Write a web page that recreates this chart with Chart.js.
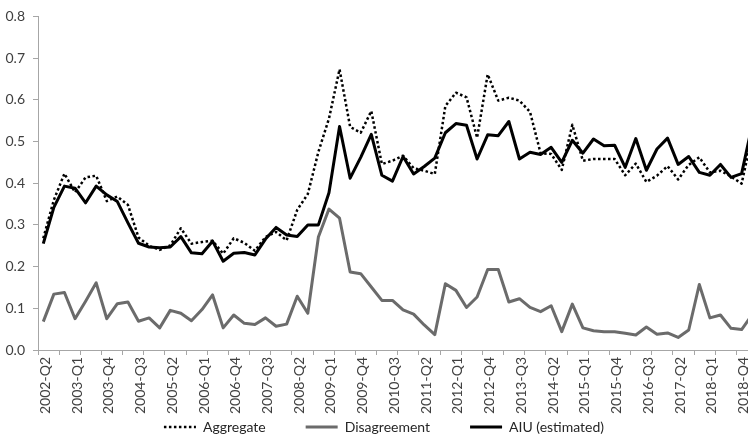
<!DOCTYPE html>
<html>
<head>
<meta charset="utf-8">
<script src="https://cdn.jsdelivr.net/npm/chart.js@4"></script>
<style>
html, body { margin: 0; padding: 0; background: #fff; overflow: hidden; }
#wrap { width: 771px; height: 442px; }
</style>
</head>
<body>
<div id="wrap"><canvas id="chart" width="771" height="442"></canvas></div>
<script>
var quarters = [
    '2002-Q2', '2002-Q3', '2002-Q4',
    '2003-Q1', '2003-Q2', '2003-Q3', '2003-Q4',
    '2004-Q1', '2004-Q2', '2004-Q3', '2004-Q4',
    '2005-Q1', '2005-Q2', '2005-Q3', '2005-Q4',
    '2006-Q1', '2006-Q2', '2006-Q3', '2006-Q4',
    '2007-Q1', '2007-Q2', '2007-Q3', '2007-Q4',
    '2008-Q1', '2008-Q2', '2008-Q3', '2008-Q4',
    '2009-Q1', '2009-Q2', '2009-Q3', '2009-Q4',
    '2010-Q1', '2010-Q2', '2010-Q3', '2010-Q4',
    '2011-Q1', '2011-Q2', '2011-Q3', '2011-Q4',
    '2012-Q1', '2012-Q2', '2012-Q3', '2012-Q4',
    '2013-Q1', '2013-Q2', '2013-Q3', '2013-Q4',
    '2014-Q1', '2014-Q2', '2014-Q3', '2014-Q4',
    '2015-Q1', '2015-Q2', '2015-Q3', '2015-Q4',
    '2016-Q1', '2016-Q2', '2016-Q3', '2016-Q4',
    '2017-Q1', '2017-Q2', '2017-Q3', '2017-Q4',
    '2018-Q1', '2018-Q2', '2018-Q3', '2018-Q4',
    '2019-Q1'
]

var aggregate = [
    0.268, 0.360, 0.423, 0.378, 0.414, 0.418, 0.357, 0.368, 0.348, 0.270,
    0.250, 0.240, 0.251, 0.292, 0.255, 0.259, 0.262, 0.231, 0.268, 0.257,
    0.238, 0.271, 0.283, 0.263, 0.336, 0.374, 0.475, 0.555, 0.673, 0.535,
    0.521, 0.573, 0.446, 0.454, 0.466, 0.436, 0.430, 0.422, 0.585, 0.617,
    0.606, 0.509, 0.661, 0.598, 0.605, 0.598, 0.571, 0.472, 0.470, 0.432,
    0.540, 0.454, 0.458, 0.458, 0.458, 0.419, 0.447, 0.403, 0.418, 0.441,
    0.409, 0.444, 0.462, 0.426, 0.430, 0.416, 0.399, 0.515
]

var disagreement = [
    0.068, 0.134, 0.138, 0.075, 0.117, 0.161, 0.075, 0.111, 0.115, 0.069,
    0.077, 0.053, 0.095, 0.088, 0.070, 0.097, 0.132, 0.053, 0.084, 0.064,
    0.061, 0.077, 0.057, 0.062, 0.129, 0.088, 0.271, 0.338, 0.316, 0.187,
    0.183, 0.151, 0.119, 0.119, 0.096, 0.086, 0.060, 0.037, 0.159, 0.143,
    0.102, 0.127, 0.193, 0.193, 0.115, 0.123, 0.102, 0.092, 0.106, 0.044,
    0.110, 0.053, 0.046, 0.044, 0.044, 0.040, 0.036, 0.055, 0.038, 0.041,
    0.030, 0.048, 0.157, 0.077, 0.084, 0.052, 0.049, 0.085
]

var aiu = [
    0.255, 0.342, 0.393, 0.388, 0.353, 0.393, 0.372, 0.356, 0.305, 0.256,
    0.247, 0.245, 0.247, 0.272, 0.233, 0.231, 0.261, 0.213, 0.232, 0.234,
    0.228, 0.266, 0.294, 0.276, 0.272, 0.300, 0.300, 0.377, 0.536, 0.412,
    0.462, 0.517, 0.419, 0.405, 0.464, 0.422, 0.440, 0.460, 0.521, 0.543,
    0.539, 0.458, 0.516, 0.514, 0.548, 0.458, 0.474, 0.469, 0.486, 0.450,
    0.503, 0.472, 0.506, 0.490, 0.491, 0.438, 0.507, 0.431, 0.482, 0.508,
    0.445, 0.464, 0.426, 0.419, 0.445, 0.414, 0.423, 0.540
]

var axisColor = '#a6a6a6'
var textColor = '#404040'
var fontFamily = 'Lato, "Liberation Sans", sans-serif'

// legend with short line samples, centred under the plot
var lineLegend = {
    id: 'lineLegend',
    afterDraw: function(chart) {
        var ctx = chart.ctx
        var sets = chart.data.datasets
        var sample = 32
        var gap = 7
        var space = 40
        var y = 427
        ctx.save()
        ctx.font = '14px ' + fontFamily
        var widths = sets.map(function(ds) { return ctx.measureText(ds.label).width })
        var total = (sets.length - 1) * space
        for (let i = 0; i < sets.length; i++) {
            total += sample + gap + widths[i]
        }
        var x = 384 - total / 2
        for (let i = 0; i < sets.length; i++) {
            var ds = sets[i]
            ctx.beginPath()
            ctx.setLineDash(ds.borderDash || [])
            ctx.lineWidth = ds.borderWidth
            ctx.strokeStyle = ds.borderColor
            ctx.moveTo(x, y)
            ctx.lineTo(x + sample, y)
            ctx.stroke()
            ctx.setLineDash([])
            ctx.fillStyle = '#262626'
            ctx.textBaseline = 'middle'
            ctx.fillText(ds.label, x + sample + gap, y)
            x += sample + gap + widths[i] + space
        }
        ctx.restore()
    }
}

new Chart(document.getElementById('chart'), {
    type: 'line',
    data: {
        labels: quarters,
        datasets: [
            {
                label: 'Aggregate',
                data: aggregate,
                borderColor: '#000000',
                borderWidth: 2.5,
                borderDash: [2.5, 2.5],
                order: 2,
            },
            {
                label: 'Disagreement',
                data: disagreement,
                borderColor: '#6b6b6b',
                borderWidth: 3,
                order: 1,
            },
            {
                label: 'AIU (estimated)',
                data: aiu,
                borderColor: '#000000',
                borderWidth: 3,
                order: 0,
            },
        ],
    },
    options: {
        responsive: false,
        animation: false,
        devicePixelRatio: 1,
        layout: {
            padding: {top: 15, right: 0, left: 0, bottom: 22},
        },
        elements: {
            point: {radius: 0},
            line: {tension: 0, fill: false, borderJoinStyle: 'round'},
        },
        plugins: {
            tooltip: {enabled: false},
            legend: {display: false},
        },
        scales: {
            x: {
                type: 'category',
                offset: true,
                afterFit: function(scale) { scale.height = 70 },
                grid: {
                    offset: true,
                    drawOnChartArea: false,
                    tickLength: 5,
                    color: function(ctx) { return ctx.index % 2 === 0 ? axisColor : 'rgba(0,0,0,0)' },
                    tickColor: function(ctx) { return ctx.index % 2 === 0 ? axisColor : 'rgba(0,0,0,0)' },
                },
                border: {display: true, color: axisColor, width: 1},
                ticks: {
                    autoSkip: false,
                    minRotation: 90,
                    maxRotation: 90,
                    padding: 2,
                    labelOffset: 2,
                    color: textColor,
                    font: {family: fontFamily, size: 14},
                    callback: function(value, index) {
                        return index % 3 === 0 ? quarters[index] : ''
                    },
                },
            },
            y: {
                min: 0,
                max: 0.8,
                afterFit: function(scale) { scale.width = 38 },
                grid: {
                    drawOnChartArea: false,
                    tickLength: 5,
                    color: axisColor,
                },
                border: {display: true, color: axisColor, width: 1},
                ticks: {
                    stepSize: 0.1,
                    padding: 8,
                    color: textColor,
                    font: {family: fontFamily, size: 14},
                    callback: function(value) { return value.toFixed(1) },
                },
            },
        },
    },
    plugins: [lineLegend],
})
</script>
</body>
</html>
